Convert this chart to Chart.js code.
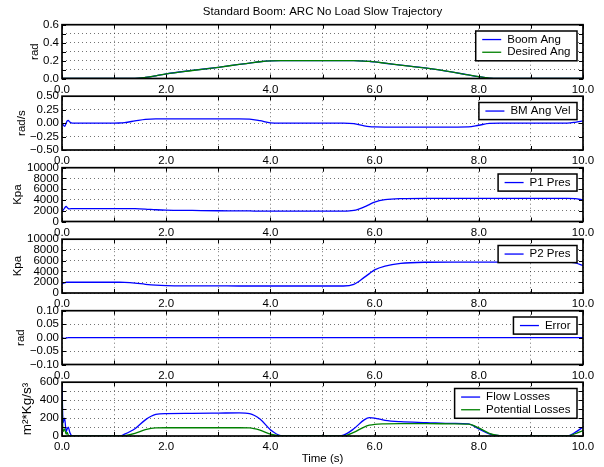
<!DOCTYPE html>
<html><head><meta charset="utf-8">
<script src="https://cdn.jsdelivr.net/npm/chart.js@4"></script>
<style>
html,body{margin:0;padding:0;background:#fff;width:604px;height:467px;overflow:hidden}
canvas{position:absolute;left:0;top:0}
</style></head>
<body>
<canvas id="c0" width="604" height="467"></canvas>
<canvas id="c1" width="604" height="467"></canvas>
<canvas id="c2" width="604" height="467"></canvas>
<canvas id="c3" width="604" height="467"></canvas>
<canvas id="c4" width="604" height="467"></canvas>
<canvas id="c5" width="604" height="467"></canvas>
<script>
// ---- data (time in s) ----
const time = [0, 0.02, 0.05, 0.08, 0.1, 0.12, 0.15, 0.2, 0.5, 1.0, 1.1, 1.2, 1.4, 1.6, 1.8, 2.0, 2.5, 3.0, 3.4, 3.6, 3.8, 4.0, 4.2, 4.5, 5.0, 5.2, 5.4, 5.6, 5.8, 5.9, 6.0, 6.2, 6.5, 7.0, 7.5, 7.8, 8.0, 8.2, 8.4, 8.6, 9.0, 9.5, 9.7, 9.85, 10.0];
const boomAng = [0,0,0,0,0,0,0,0, 0,0,0,0,0.001,0.012,0.03,0.052,0.09,0.125,0.157,0.172,0.187,0.197,0.2,0.2,0.2,0.2,0.2,0.199,0.194,0.19,0.185,0.17,0.15,0.115,0.07,0.04,0.02,0.004,0,0,0,0,0,0,0];
const desiredAng = [0,0,0,0,0,0,0,0, 0,0,0,0,0.001,0.012,0.03,0.051,0.089,0.125,0.157,0.172,0.187,0.197,0.2,0.2,0.2,0.2,0.2,0.199,0.194,0.19,0.185,0.171,0.15,0.115,0.071,0.04,0.02,0.004,0,0,0,0,0,0,0];
const bmAngVel = [0,-0.03,-0.06,0,0.04,0.05,0.02,0, 0,0,0.002,0.01,0.04,0.07,0.08,0.08,0.08,0.08,0.08,0.075,0.045,0.005,0,0,0,0,0,-0.01,-0.05,-0.065,-0.072,-0.075,-0.075,-0.075,-0.075,-0.072,-0.04,-0.005,0,0,0,0,0,0.015,0.04];
const p1Pres = [1800,2100,2500,2800,2600,2400,2350,2400, 2400,2400,2400,2400,2380,2300,2180,2100,2050,2000,1980,1960,1930,1920,1920,1920,1920,1920,1920,2050,2700,3150,3600,4050,4250,4300,4300,4300,4300,4300,4300,4300,4300,4300,4300,4250,4000];
const p2Pres = [1600,1800,1900,2000,2000,2000,2000,2000, 2000,2000,2000,1980,1850,1620,1450,1370,1330,1320,1300,1300,1300,1300,1300,1300,1300,1300,1300,1600,2900,3600,4300,5000,5500,5720,5750,5750,5750,5750,5750,5750,5750,5750,5750,5600,5100];
const errorRad = [0,-0.002,-0.003,-0.002,-0.001,0,0,0, 0,0,0,0,0,0,0,0,0,0,0,0,0,0,0,0,0,0,0,0,0,0,0,0,0,0,0,0,0,0,0,0,0,0,0,0,0];
const flowLosses = [600,150,200,50,80,100,40,0, 0,0,0,20,80,180,240,250,252,255,258,250,190,70,5,0,0,0,10,80,180,205,200,175,160,150,140,135,80,25,3,0,0,0,0,40,100];
const potentialLosses = [400,50,80,20,40,10,0,0, 0,0,0,5,30,70,90,92,92,92,92,90,65,20,2,0,0,0,2,40,100,120,130,135,138,138,135,132,90,30,5,0,0,0,0,25,60];
const chartTitle = 'Standard Boom: ARC No Load Slow Trajectory';
const xTitle = 'Time (s)';

const BLUE = '#0000ff', GREEN = '#008000';
const FONT = '"Liberation Sans", Arial, Helvetica, sans-serif';
Chart.defaults.font.family = FONT;
Chart.defaults.font.size = 11.5;
Chart.defaults.color = '#000';

const panels = [
  {top:24.7, bottom:78.5, min:0, max:0.6, step:0.1, every:0.2, dec:1, ytitle:'rad', tpad:27.6, tsize:11.5,
   series:[['Boom Ang', boomAng, BLUE, 1], ['Desired Ang', desiredAng, GREEN, 0]], title:chartTitle},
  {top:96.2, bottom:150, min:-0.5, max:0.5, step:0.25, every:0.25, dec:2, ytitle:'rad/s', tpad:14.8, tsize:11.5,
   series:[['BM Ang Vel', bmAngVel, BLUE, 0]]},
  {top:167.7, bottom:221.5, min:0, max:10000, step:2000, every:2000, dec:0, ytitle:'Kpa', tpad:10.6, tsize:11.5,
   series:[['P1 Pres', p1Pres, BLUE, 0]]},
  {top:239.2, bottom:293, min:0, max:10000, step:2000, every:2000, dec:0, ytitle:'Kpa', tpad:10.6, tsize:11.5,
   series:[['P2 Pres', p2Pres, BLUE, 0]]},
  {top:310.7, bottom:364.5, min:-0.1, max:0.1, step:0.05, every:0.05, dec:2, ytitle:'rad', tpad:14, tsize:11.5,
   series:[['Error', errorRad, BLUE, 0]]},
  {top:382.2, bottom:436, min:0, max:600, step:100, every:200, dec:0, ytitle:'m\u00b2*Kg/s\u00b3', tpad:19, tsize:13.5,
   series:[['Flow Losses', flowLosses, BLUE, 1], ['Potential Losses', potentialLosses, GREEN, 0]], xtitle:xTitle}
];

const framePlugin = {
  id: 'frame',
  afterDraw(chart) {
    const {ctx, chartArea: a, scales: {x, y}} = chart;
    ctx.save();
    ctx.strokeStyle = '#000';
    ctx.lineWidth = 1;
    ctx.beginPath();
    x.ticks.forEach(t => {
      const px = Math.round(x.getPixelForValue(t.value)) + 0.5;
      ctx.moveTo(px, a.bottom); ctx.lineTo(px, a.bottom - 4);
      ctx.moveTo(px, a.top); ctx.lineTo(px, a.top + 4);
    });
    y.ticks.forEach(t => {
      const py = Math.round(y.getPixelForValue(t.value)) + 0.5;
      ctx.moveTo(a.left, py); ctx.lineTo(a.left + 4, py);
      ctx.moveTo(a.right, py); ctx.lineTo(a.right - 4, py);
    });
    ctx.stroke();
    ctx.lineWidth = 1.7;
    ctx.strokeRect(a.left, a.top, a.right - a.left, a.bottom - a.top);
    // legend box
    const ds = chart.data.datasets;
    ctx.font = '11.5px ' + FONT;
    const tw = Math.max(...ds.map(d => ctx.measureText(d.label).width));
    const rowH = 12.7, pad = 2.2;
    const w = 6.5 + 19 + 6 + tw + 6.5, h = ds.length * rowH + 2 * pad;
    const bx = a.right - 6 - w, by = a.top + 6.3;
    ctx.fillStyle = '#fff';
    ctx.fillRect(bx, by, w, h);
    ctx.lineWidth = 1.5;
    ctx.strokeStyle = '#000';
    ctx.strokeRect(bx, by, w, h);
    ds.forEach((d, i) => {
      const cy = by + pad + rowH * (i + 0.5);
      ctx.strokeStyle = d.borderColor;
      ctx.lineWidth = 1.3;
      ctx.beginPath(); ctx.moveTo(bx + 6.5, cy); ctx.lineTo(bx + 25.5, cy); ctx.stroke();
      ctx.fillStyle = '#000';
      ctx.textBaseline = 'middle';
      ctx.textAlign = 'left';
      ctx.fillText(d.label, bx + 31.5, cy);
    });
    ctx.restore();
  }
};

const GRID = {color: 'rgba(0,0,0,0.55)', lineWidth: 1, drawTicks: false};

panels.forEach((p, idx) => {
  const datasets = p.series.map(([label, vals, color, order]) => ({
    label,
    data: time.map((t, i) => ({x: t, y: vals[i]})),
    borderColor: color,
    backgroundColor: color,
    borderWidth: 1.3,
    pointRadius: 0,
    fill: false,
    cubicInterpolationMode: 'monotone',
    order
  }));
  new Chart(document.getElementById('c' + idx), {
    type: 'line',
    data: {datasets},
    options: {
      responsive: false,
      animation: false,
      devicePixelRatio: 1,
      events: [],
      layout: {autoPadding: false, padding: {top: p.title ? 0 : p.top, bottom: 467 - p.bottom - 30, left: 0, right: 21}},
      plugins: {
        legend: {display: false},
        tooltip: {enabled: false},
        title: {display: !!p.title, text: p.title || '', fullSize: false, color: '#000',
                font: {size: 11.5, weight: 'normal'}, padding: {top: 5.1, bottom: 5.8}}
      },
      scales: {
        x: {
          type: 'linear', min: 0, max: 10,
          afterFit(s) { s.height = 30; s.paddingLeft = 0; s.paddingRight = 0; },
          ticks: {stepSize: 1, autoSkip: false, maxRotation: 0, minRotation: 0, padding: 4, color: '#000',
                  callback: v => (Math.round(v) % 2 === 0 ? Number(v).toFixed(1) : '')},
          grid: GRID,
          border: {display: false, dash: [1, 3]},
          title: {display: !!p.xtitle, text: p.xtitle || '', color: '#000', padding: {top: 0, bottom: 0}}
        },
        y: {
          type: 'linear', min: p.min, max: p.max,
          afterFit(s) { s.width = 62; s.paddingTop = 0; s.paddingBottom = 0; },
          ticks: {stepSize: p.step, autoSkip: false, padding: 3, color: '#000',
                  callback: v => {
                    const k = v / p.every;
                    if (Math.abs(k - Math.round(k)) > 1e-6) return '';
                    const val = Math.abs(v) < 1e-9 ? 0 : v;
                    return val.toFixed(p.dec).replace('-', '\u2212');
                  }},
          grid: GRID,
          border: {display: false, dash: [1, 3]},
          title: {display: true, text: p.ytitle, color: '#000', font: {size: p.tsize},
                  padding: {top: p.tpad, bottom: 0}}
        }
      }
    },
    plugins: [framePlugin]
  });
});
</script>
</body></html>
